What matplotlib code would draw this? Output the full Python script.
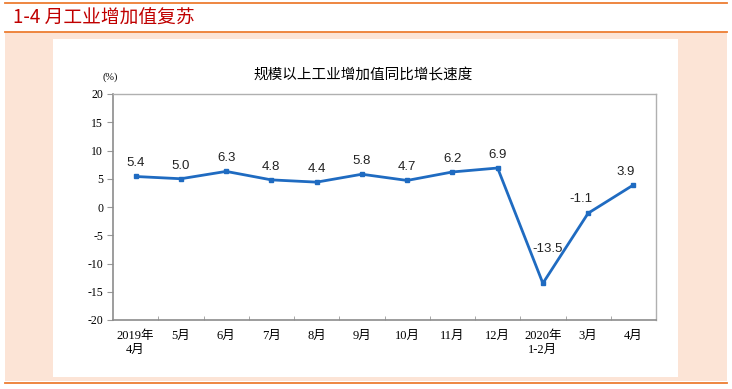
import numpy as np
import matplotlib.pyplot as plt
from matplotlib.patches import Rectangle
from matplotlib.lines import Line2D

plt.rcParams['font.family'] = ['Liberation Serif', 'Noto Sans CJK SC']

# data
months = ['2019年\n4月', '5月', '6月', '7月', '8月', '9月', '10月', '11月',
          '12月', '2020年\n1-2月', '3月', '4月']
growth = [5.4, 5.0, 6.3, 4.8, 4.4, 5.8, 4.7, 6.2, 6.9, -13.5, -1.1, 3.9]
y_ticks = [20, 15, 10, 5, 0, -5, -10, -15, -20]
# label offsets in points (dx, dy)
label_offsets = [(0, 9.5)] * 9 + [(3.5, 24.5), (-5.5, 10), (-5.5, 9.5)]

W, H = 732, 389
fig = plt.figure(figsize=(W / 100, H / 100), dpi=100)

def px_rect(x0, y0, x1, y1, color, z=0):
    fig.patches.append(Rectangle((x0 / W, 1 - y1 / H), (x1 - x0) / W,
                                 (y1 - y0) / H, transform=fig.transFigure,
                                 facecolor=color, edgecolor='none', zorder=z))

def px_hline(y, x0, x1, color, lw=1.3):
    fig.lines.append(Line2D([x0 / W, x1 / W], [1 - y / H, 1 - y / H],
                            transform=fig.transFigure, color=color, lw=lw))

# page decoration
px_rect(5, 32, 727, 381, '#FCE4D6')
px_rect(53, 39, 678, 377, 'white', z=1)
px_hline(2.5, 5, 727, '#ED7D31')
px_hline(31.5, 5, 727, '#ED7D31')
px_hline(383, 5, 727, '#ED7D31')
fig.text(13 / W, 1 - 18 / H, '1-4 月工业增加值复苏', color='#C00000',
         fontsize=13.5, va='center', ha='left',
         family=['Noto Sans CJK SC'])

# chart axes
ax = fig.add_axes([113 / W, 1 - 320 / H, 543 / W, 226 / H])
ax.set_zorder(2)
x = np.arange(len(months))
ax.plot(x, growth, color='#1F6BC1', lw=2, marker='s', markersize=3.5)
for xi, v, off in zip(x, growth, label_offsets):
    ax.annotate(f'{v:.1f}', (xi, v), xytext=off, textcoords='offset points',
                ha='center', va='center', fontsize=9.5, color='#222222',
                family=['Liberation Sans'])

ax.set_xlim(-0.5, len(months) - 0.5)
ax.set_ylim(-20, 20)
ax.set_yticks(y_ticks)
ax.set_yticklabels([str(t) for t in y_ticks], fontsize=8.5)
ax.set_xticks(x)
ax.set_xticklabels(months, fontsize=9, linespacing=1.25)
ax.tick_params(axis='x', length=0, pad=7)
ax.set_xticks(np.arange(0.5, len(months) - 0.5), minor=True)
ax.tick_params(axis='x', which='minor', direction='in', length=3,
               color='#999999')
ax.tick_params(axis='y', direction='out', length=4, color='#999999', pad=3)
for s in ['left', 'bottom']:
    ax.spines[s].set_color('#8c8c8c')
    ax.spines[s].set_linewidth(1.2)
for s in ['top', 'right']:
    ax.spines[s].set_color('#b0b0b0')
    ax.spines[s].set_linewidth(1.0)

fig.text(110 / W, 1 - 77 / H, '(%)', fontsize=7.5, ha='center', va='center',
         zorder=3)
fig.text(363 / W, 1 - 75 / H, '规模以上工业增加值同比增长速度', fontsize=10.5,
         ha='center', va='center', family=['Noto Sans CJK SC'], zorder=3)

fig.savefig('out.png', dpi=100)
